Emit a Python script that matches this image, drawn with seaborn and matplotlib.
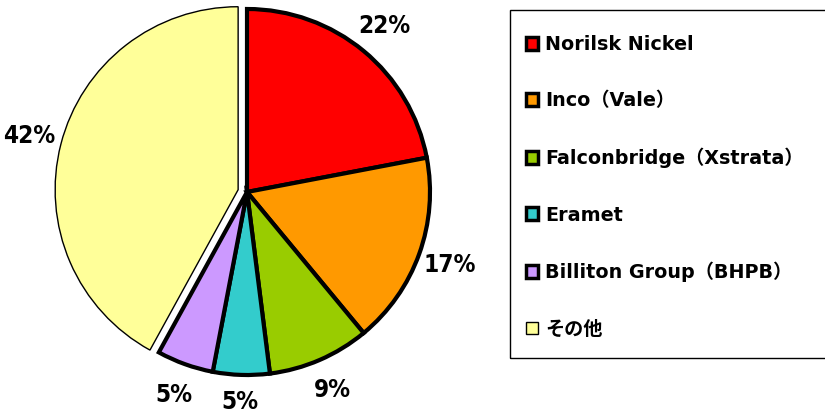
import matplotlib
matplotlib.use("Agg")
import matplotlib.pyplot as plt
from matplotlib import font_manager
from matplotlib.patches import Rectangle
import seaborn as sns

# chart data
companies = ["Norilsk Nickel", "Inco（Vale）", "Falconbridge（Xstrata）",
             "Eramet", "Billiton Group（BHPB）", "その他"]
shares = [22, 17, 9, 5, 5, 42]
pct_labels = ["22%", "17%", "9%", "5%", "5%", "42%"]
colors = ["#FF0000", "#FF9900", "#99CC00", "#33CCCC", "#CC99FF", "#FFFF99"]
explode = [0, 0, 0, 0, 0, 0.05]

sns.set_theme(style="white")
plt.rcParams["font.family"] = ["DejaVu Sans", "Noto Sans CJK JP"]
plt.rcParams["text.color"] = "black"

# narrow bold font for the percent labels
names = {f.name for f in font_manager.fontManager.ttflist}
if "Liberation Sans Narrow" in names:
    pct_font = dict(family=["Liberation Sans Narrow"], fontsize=20)
else:
    pct_font = dict(family=["DejaVu Sans"], fontstretch="condensed", fontsize=17.5)

W, H = 825, 415
fig = plt.figure(figsize=(W / 100, H / 100), dpi=100)

# pie axes: center at (247,192) px, radius ~183 px
R = 183
L = 1.25
size = 2 * L * R
ax = fig.add_axes([(247 - size / 2) / W, ((H - 192) - size / 2) / H,
                   size / W, size / H])

wedges, texts = ax.pie(shares, colors=colors, startangle=90, counterclock=False,
                       explode=explode, labels=pct_labels, labeldistance=1.18,
                       wedgeprops=dict(edgecolor="black", linewidth=3),
                       textprops=dict(fontweight="bold", color="black", **pct_font))
wedges[-1].set_linewidth(1)
for t in texts:
    t.set_ha("center")
    t.set_va("center")
    t.set_clip_on(False)
# keep the bottom label inside the picture
x3, y3 = texts[3].get_position()
texts[3].set_position((x3, y3 + 0.03))
ax.set_xlim(-L, L)
ax.set_ylim(-L, L)
ax.set_aspect("equal")
ax.axis("off")

# legend box (runs off the right edge like the original)
fig.add_artist(Rectangle((510 / W, 1 - 358 / H), 330 / W, 348 / H,
                         transform=fig.transFigure, fill=False,
                         edgecolor="black", linewidth=1))
leg = fig.legend(wedges, companies, loc="upper left",
                 bbox_to_anchor=(526 / W, 1 - 35 / H),
                 prop=dict(size=13.8, weight="bold"),
                 handlelength=0.65, handleheight=0.65, handletextpad=0.35,
                 labelspacing=1.95, borderpad=0, borderaxespad=0,
                 frameon=False)
for h in leg.legend_handles[:-1]:
    h.set_linewidth(2.5)

fig.savefig("out.png", dpi=100, facecolor="white")
